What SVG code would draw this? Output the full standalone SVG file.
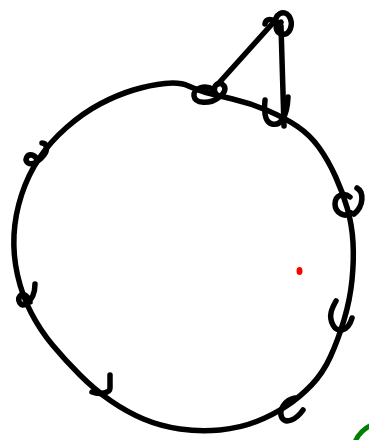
<svg xmlns="http://www.w3.org/2000/svg" width="369" height="440" viewBox="0 0 369 440">
<style>
.ink{fill:none;stroke:#000;stroke-width:5.5;stroke-linecap:round;stroke-linejoin:round}
</style>
<rect width="369" height="440" fill="#fff"/>
<g id="connectors">
<path class="ink" d="M 188.5,86 Q 180,82 165,83.5 Q 150,85 133.5,90 Q 117,95 100,104 Q 83,113 66.5,127.5 Q 50,142 39,158.5 Q 28,175 21.5,195 Q 15,215 14,235 Q 13,255 17.5,275 Q 22,295 31,312.5 Q 40,330 52.5,345 Q 65,360 80,375 Q 95,390 111,401 Q 127,412 143.5,419 Q 160,426 180,429 Q 200,432 220,430 Q 240,428 256.5,421.5 Q 273,415 286.5,406 Q 300,397 311.5,385 Q 323,373 330.5,356.5 Q 338,340 344,320 Q 350,300 352,280 Q 354,260 353,242.5 Q 352,225 347.5,209 Q 343,193 335.5,176.5 Q 328,160 319,147.5 Q 310,135 297.5,126.5 Q 285,118 267.5,110.5 Q 250,103 232.5,99 Q 215,95 206,92.5 Q 197,90 188.5,86 Z"/>
<path class="ink" d="M 218,84 L 272,24"/>
<path class="ink" d="M 281,26 L 284,126"/>
</g>
<g id="node-top-left"><path class="ink" d="M 214,90 C 205,84 193,88 194,96 C 195,104 210,104 218,98 C 224,94 228,88 222,84 C 216,82 212,88 216,94"/></g>
<g id="node-top"><path class="ink" d="M 265,24 C 266,18 273,18 276,24 C 274,14 284,9 289,16 C 294,24 290,36 282,34 C 275,32 274,25 281,22"/></g>
<g id="node-top-right"><path class="ink" d="M 265,100 C 264,110 264,122 272,124 C 280,126 287,118 288,97"/></g>
<g id="node-left-upper"><path class="ink" d="M 42,143 C 47,143 48,150 44,155 C 40,160 33,166 28,163 C 24,160 27,154 32,155 C 36,156 38,160 36,163"/></g>
<g id="node-left-lower"><path class="ink" d="M 35,284 C 35,292 32,300 26,304 C 20,307 17,300 20,296 C 23,292 28,296 30,302"/></g>
<g id="node-right-upper"><path class="ink" d="M 351,213 C 345,218 335,213 335,204 C 335,195 344,192 350,197 M 357,188 C 364,192 364,206 354,214"/></g>
<g id="node-right-lower"><path class="ink" d="M 336,301 C 332,308 328,316 333,325 C 337,333 348,332 352,318"/></g>
<g id="node-bottom-left"><path class="ink" d="M 110,375 L 110,388 C 110,393 100,395 92,392"/></g>
<g id="node-bottom-right"><path class="ink" d="M 295,398 C 285,400 278,410 282,418 C 286,424 296,420 303,410"/></g>
<circle cx="383" cy="453" r="30" fill="none" stroke="#008000" stroke-width="5"/>
<ellipse cx="299.5" cy="271" rx="3" ry="4" fill="#ff0000"/>
</svg>
